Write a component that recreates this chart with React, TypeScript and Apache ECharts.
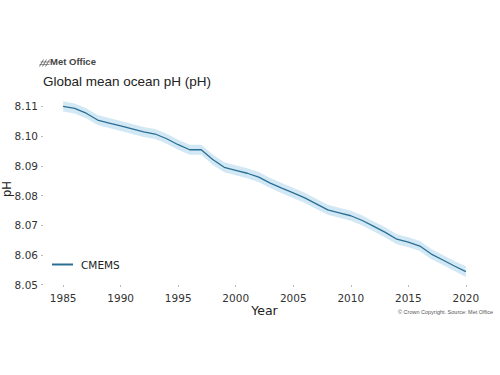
import React, { useEffect, useRef } from "react";
import * as echarts from "echarts";

const years = [1985, 1986, 1987, 1988, 1989, 1990, 1991, 1992, 1993, 1994, 1995, 1996, 1997, 1998, 1999, 2000, 2001, 2002, 2003, 2004, 2005, 2006, 2007, 2008, 2009, 2010, 2011, 2012, 2013, 2014, 2015, 2016, 2017, 2018, 2019, 2020];
const meanPH = [8.1100, 8.1093, 8.1077, 8.1054, 8.1044, 8.1034, 8.1024, 8.1014, 8.1007, 8.0991, 8.0971, 8.0954, 8.0954, 8.0921, 8.0895, 8.0885, 8.0875, 8.0862, 8.0842, 8.0825, 8.0809, 8.0792, 8.0772, 8.0752, 8.0742, 8.0732, 8.0716, 8.0696, 8.0676, 8.0653, 8.0643, 8.0630, 8.0603, 8.0583, 8.0563, 8.0544];
const upperPH = [8.1117, 8.1110, 8.1094, 8.1071, 8.1061, 8.1051, 8.1041, 8.1031, 8.1024, 8.1008, 8.0988, 8.0971, 8.0971, 8.0938, 8.0912, 8.0902, 8.0892, 8.0879, 8.0859, 8.0842, 8.0826, 8.0809, 8.0789, 8.0769, 8.0759, 8.0749, 8.0733, 8.0713, 8.0693, 8.0670, 8.0660, 8.0647, 8.0620, 8.0600, 8.0580, 8.0562];
const lowerPH = [8.1083, 8.1076, 8.1060, 8.1037, 8.1027, 8.1017, 8.1007, 8.0997, 8.0990, 8.0974, 8.0954, 8.0937, 8.0937, 8.0904, 8.0878, 8.0868, 8.0858, 8.0845, 8.0825, 8.0808, 8.0792, 8.0775, 8.0755, 8.0735, 8.0725, 8.0715, 8.0699, 8.0679, 8.0659, 8.0636, 8.0626, 8.0613, 8.0586, 8.0566, 8.0546, 8.0526];
const xTicks = [1985, 1990, 1995, 2000, 2005, 2010, 2015, 2020];
const yTicks = [8.05, 8.06, 8.07, 8.08, 8.09, 8.10, 8.11];

const LINE = "#2a6f93";
const BAND = "#d3e8f5";

export default function App() {
  const ref = useRef<HTMLDivElement>(null);
  useEffect(() => {
    if (!ref.current) return;
    const chart = echarts.init(ref.current, null, { renderer: "svg" });
    const tickFont = { fontFamily: "DejaVu Sans", fontSize: 10.5, color: "#333" };
    const bandData = years.map((y, i) => [y, lowerPH[i], upperPH[i]]);
    chart.setOption({
      animation: false,
      backgroundColor: "#fff",
      grid: { left: 43, right: 14, top: 93, bottom: 90, outerBoundsMode: "none", containLabel: false },
      title: {
        text: "Global mean ocean pH (pH)",
        left: 43,
        top: 74,
        padding: 0,
        textStyle: { fontFamily: "Liberation Sans", fontSize: 13.5, fontWeight: "normal", color: "#222" },
      },
      legend: {
        data: ["CMEMS"],
        left: 52,
        top: 259,
        icon: "rect",
        itemWidth: 21,
        itemHeight: 2,
        itemGap: 0,
        padding: 0,
        textStyle: { fontFamily: "DejaVu Sans", fontSize: 10.5, color: "#222", padding: [0, 0, 0, 3] },
      },
      xAxis: {
        type: "value",
        min: 1983.25,
        max: 2021.75,
        name: "Year",
        nameLocation: "middle",
        nameGap: 19,
        nameMoveOverlap: false,
        nameTextStyle: { fontFamily: "DejaVu Sans", fontSize: 12.5, color: "#222", verticalAlign: "top" },
        axisLine: { show: false },
        splitLine: { show: false },
        axisTick: { show: true, length: 2, lineStyle: { color: "#bbb" }, customValues: xTicks },
        axisLabel: { ...tickFont, margin: 7, customValues: xTicks, formatter: (v: number) => String(v) },
      },
      yAxis: {
        type: "value",
        min: 8.0499,
        max: 8.1145,
        name: "pH",
        nameLocation: "middle",
        nameGap: 30,
        nameMoveOverlap: false,
        nameTextStyle: { fontFamily: "DejaVu Sans", fontSize: 11.5, color: "#222" },
        axisLine: { show: false },
        splitLine: { show: false },
        axisTick: { show: true, length: 2, lineStyle: { color: "#bbb" }, customValues: yTicks },
        axisLabel: { ...tickFont, margin: 5, customValues: yTicks, formatter: (v: number) => v.toFixed(2) },
      },
      series: [
        {
          name: "band",
          type: "custom",
          data: bandData,
          encode: { x: 0, y: [1, 2] },
          silent: true,
          clip: false,
          renderItem: (params: any, api: any) => {
            if (params.dataIndex !== 0) return null;
            const top = bandData.map((d) => api.coord([d[0], d[2]]));
            const bottom = bandData.map((d) => api.coord([d[0], d[1]])).reverse();
            return {
              type: "polygon",
              shape: { points: top.concat(bottom) },
              style: { fill: BAND, stroke: null },
            };
          },
        },
        {
          name: "CMEMS",
          type: "line",
          data: years.map((y, i) => [y, meanPH[i]]),
          symbol: "none",
          itemStyle: { color: LINE },
          lineStyle: { color: LINE, width: 1.3 },
          clip: false,
        },
      ],
      graphic: [
        {
          type: "group",
          left: 37,
          top: 57,
          children: [
            { type: "line", shape: { x1: 0, y1: 7, x2: 4, y2: 0 }, style: { stroke: "#666", lineWidth: 0.9 } },
            { type: "line", shape: { x1: 3, y1: 7, x2: 7, y2: 0 }, style: { stroke: "#666", lineWidth: 0.9 } },
            { type: "line", shape: { x1: 6, y1: 7, x2: 10, y2: 0 }, style: { stroke: "#666", lineWidth: 0.9 } },
            { type: "line", shape: { x1: 1, y1: 2.5, x2: 11, y2: 2.5 }, style: { stroke: "#666", lineWidth: 0.7 } },
            { type: "line", shape: { x1: 0, y1: 5, x2: 10, y2: 5 }, style: { stroke: "#666", lineWidth: 0.7 } },
          ],
        },
        {
          type: "text",
          left: 50,
          top: 56,
          style: { text: "Met Office", font: "bold 9.5px 'Liberation Sans'", fill: "#444" },
        },
        {
          type: "text",
          left: 398,
          top: 309,
          style: { text: "© Crown Copyright. Source: Met Office", font: "5.5px 'Liberation Sans'", fill: "#555" },
        },
      ],
    });
    return () => chart.dispose();
  }, []);
  return <div ref={ref} style={{ position: "fixed", left: 0, top: 0, width: 500, height: 375 }} />;
}
